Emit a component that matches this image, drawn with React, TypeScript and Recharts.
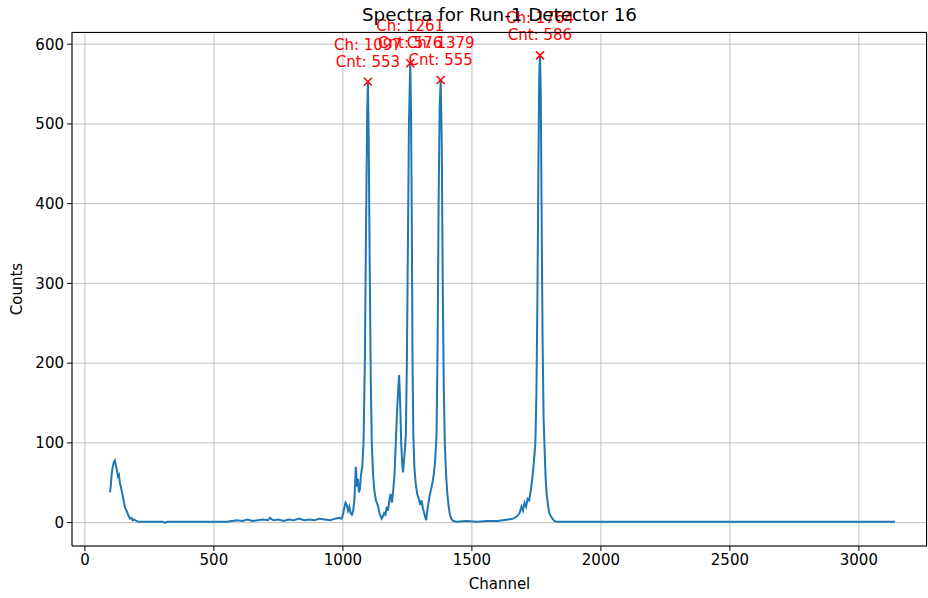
import React from 'react';
import { ComposedChart, Line, Scatter, XAxis, YAxis, CartesianGrid } from 'recharts';

// spectrum (channel, counts), sparse where flat, dense around peaks
const channels = [
  97, 100, 104, 108, 112, 116, 120, 124, 128, 132, 136, 140, 145, 150, 155, 160, 165, 170, 175, 180, 185, 190, 200, 210, 220,
  260, 300, 310, 320, 400, 500, 550, 570, 590, 610, 630, 650, 670, 690, 710, 717, 730, 750, 770, 790, 810, 830, 850, 870, 890,
  910, 930, 950, 970, 985, 995, 1000, 1005, 1010, 1015, 1020, 1025, 1030, 1035, 1040, 1045, 1050, 1055, 1058, 1062, 1066, 1070,
  1075, 1080, 1085, 1090, 1094, 1097, 1100, 1104, 1108, 1112, 1117, 1122, 1128, 1135, 1142, 1150, 1155, 1160, 1165, 1170, 1175,
  1180, 1185, 1190, 1195, 1200, 1205, 1210, 1214, 1218, 1222, 1226, 1230, 1233, 1237, 1241, 1244, 1248, 1252, 1256, 1261, 1264,
  1267, 1270, 1273, 1277, 1282, 1288, 1294, 1300, 1305, 1310, 1315, 1320, 1323, 1327, 1332, 1337, 1342, 1347, 1352, 1357, 1363,
  1367, 1371, 1375, 1379, 1383, 1387, 1391, 1395, 1400, 1405, 1410, 1415, 1420, 1428, 1440, 1480, 1520, 1560, 1600, 1620, 1640,
  1660, 1675, 1685, 1692, 1698, 1704, 1710, 1716, 1722, 1728, 1734, 1740, 1746, 1750, 1754, 1758, 1761, 1764, 1767, 1770, 1774,
  1778, 1782, 1786, 1790, 1795, 1800, 1806, 1812, 1820, 1830, 2000, 2500, 3000, 3140,
];
const counts = [
  38, 45, 62, 70, 76, 78, 72, 66, 58, 60, 49, 44, 36, 28, 19, 16, 12, 8, 5, 6, 3, 4, 2, 1, 1,
  1, 1, 0, 1, 1, 1, 1, 2, 3, 2, 4, 2, 3, 4, 3, 6, 3, 4, 2, 4, 3, 5, 3, 4, 3,
  5, 4, 3, 5, 6, 5, 10, 18, 25, 22, 15, 20, 12, 10, 15, 30, 70, 45, 55, 38, 42, 60,
  70, 100, 200, 380, 510, 553, 480, 320, 180, 100, 60, 40, 28, 22, 12, 5, 8, 12, 10, 20, 15,
  28, 36, 25, 40, 60, 100, 140, 165, 185, 150, 100, 72, 63, 78, 95, 110, 200, 350, 500, 576, 520,
  380, 200, 110, 70, 50, 36, 30, 22, 28, 18, 12, 6, 3, 15, 25, 35, 42, 50, 60, 75, 110,
  220, 400, 520, 555, 480, 300, 170, 100, 60, 35, 20, 10, 5, 2, 1, 2, 1, 2, 2, 3, 4,
  5, 8, 12, 20, 15, 25, 20, 30, 28, 40, 55, 75, 100, 160, 280, 450, 560, 586, 540, 400, 230,
  130, 90, 55, 35, 22, 12, 8, 5, 2, 1, 1, 1, 1, 1,
];

const peakChannels = [1097, 1261, 1379, 1764];
const peakCounts = [553, 576, 555, 586];

const xTicks = [0, 500, 1000, 1500, 2000, 2500, 3000];
const yTicks = [0, 100, 200, 300, 400, 500, 600];

const spectrum = channels.map((ch, i) => ({ ch, cnt: counts[i] }));
const peaks = peakChannels.map((ch, i) => ({ ch, cnt: peakCounts[i] }));

const FONT = '"DejaVu Sans", sans-serif';

const PeakMark = (props: any) => {
  const { cx, cy, payload } = props;
  if (cx == null || cy == null) return null;
  const s = 4;
  return (
    <g>
      <line x1={cx - s} y1={cy - s} x2={cx + s} y2={cy + s} stroke="red" strokeWidth={1.5} />
      <line x1={cx - s} y1={cy + s} x2={cx + s} y2={cy - s} stroke="red" strokeWidth={1.5} />
      <text x={cx} y={cy - 37} fill="red" fontSize={15} fontFamily={FONT} textAnchor="middle" dominantBaseline="central">
        {`Ch: ${payload.ch}`}
      </text>
      <text x={cx} y={cy - 20} fill="red" fontSize={15} fontFamily={FONT} textAnchor="middle" dominantBaseline="central">
        {`Cnt: ${payload.cnt}`}
      </text>
    </g>
  );
};

const tickStyle = { fill: '#000', fontSize: 15, fontFamily: FONT };

export default function App() {
  return (
    <div style={{ position: 'absolute', left: 0, top: 0, width: 928, height: 598, background: '#fff' }}>
      <ComposedChart width={928} height={598} data={spectrum} margin={{ top: 32, right: 1, bottom: 22, left: 0 }}>
        <CartesianGrid stroke="#b0b0b0" strokeWidth={0.8} />
        <XAxis
          dataKey="ch"
          type="number"
          domain={[-50, 3264]}
          ticks={xTicks}
          height={30}
          stroke="#000"
          tickSize={5}
          tickMargin={3}
          tick={tickStyle}
        />
        <YAxis
          type="number"
          domain={[-29.3, 615.3]}
          ticks={yTicks}
          width={72}
          stroke="#000"
          tickSize={5}
          tickMargin={3}
          tick={tickStyle}
        />
        <Line dataKey="cnt" type="linear" stroke="#1f77b4" strokeWidth={2} dot={false} isAnimationActive={false} />
        <Scatter data={peaks} dataKey="cnt" shape={PeakMark} isAnimationActive={false} />
      </ComposedChart>
      {/* axes frame */}
      <div
        style={{
          position: 'absolute',
          left: 72,
          top: 32,
          width: 855,
          height: 514,
          boxSizing: 'border-box',
          borderTop: '1px solid #000',
          borderRight: '1px solid #000',
          pointerEvents: 'none',
        }}
      />
      <div style={{ position: 'absolute', left: 0, width: 999, top: 4, textAlign: 'center', fontFamily: FONT, fontSize: 18.3, color: '#000' }}>
        Spectra for Run-1 Detector 16
      </div>
      <div style={{ position: 'absolute', left: 0, width: 999, top: 575, textAlign: 'center', fontFamily: FONT, fontSize: 15, color: '#000' }}>
        Channel
      </div>
      <div
        style={{
          position: 'absolute',
          left: 17,
          top: 289,
          transform: 'translate(-50%, -50%) rotate(-90deg)',
          fontFamily: FONT,
          fontSize: 15,
          color: '#000',
          whiteSpace: 'nowrap',
        }}
      >
        Counts
      </div>
    </div>
  );
}
